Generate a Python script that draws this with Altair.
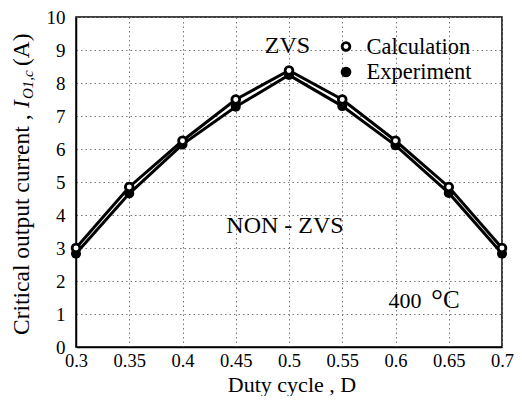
import altair as alt
import pandas as pd

duty = [0.3, 0.35, 0.4, 0.45, 0.5, 0.55, 0.6, 0.65, 0.7]
calculation = [3.0, 4.85, 6.25, 7.5, 8.38, 7.5, 6.25, 4.85, 3.0]
experiment = [2.83, 4.65, 6.14, 7.28, 8.24, 7.3, 6.11, 4.67, 2.83]
y_ticks = [0, 1, 2, 3, 4, 5, 6, 7, 8, 9, 10]

df = pd.DataFrame({"D": duty, "Calculation": calculation, "Experiment": experiment})

FONT = "Liberation Serif"

x_enc = alt.X(
    "D:Q",
    scale=alt.Scale(domain=[0.3, 0.7], nice=False, zero=False),
    axis=alt.Axis(values=duty, format=".2~f", title=None, ticks=False,
                  labelFlush=False, labelOverlap=False, labelPadding=4,
                  labelFontSize=18.5, labelFont=FONT, labelColor="black",
                  grid=True, gridDash=[1.5, 3], gridColor="#777", gridWidth=1,
                  domainColor="black", domainWidth=1.5),
)
y_enc = alt.Y(
    "val:Q",
    scale=alt.Scale(domain=[0, 10], nice=False),
    axis=alt.Axis(values=y_ticks, title=None, ticks=False, labelPadding=11,
                  labelFontSize=19, labelFont=FONT, labelColor="black",
                  labelFlush=False, labelOverlap=False,
                  grid=True, gridDash=[1.5, 3], gridColor="#777", gridWidth=1,
                  domainColor="black", domainWidth=1.5),
)

base = alt.Chart(df).transform_fold(["Calculation", "Experiment"], as_=["series", "val"])
lines = base.mark_line(color="black", strokeWidth=3).encode(x=x_enc, y=y_enc, detail="series:N")
exp_pts = base.transform_filter(alt.datum.series == "Experiment").mark_circle(
    color="black", size=100, opacity=1).encode(x=x_enc, y=y_enc)
calc_pts = base.transform_filter(alt.datum.series == "Calculation").mark_point(
    shape="circle", filled=True, fill="white", stroke="black",
    strokeWidth=2.8, size=60, opacity=1).encode(x=x_enc, y=y_enc)

one = alt.Data(values=[{}])


def txt(s, x, y, size=24, align="left", angle=0, style="normal"):
    return alt.Chart(one).mark_text(
        text=s, font=FONT, fontSize=size, align=align, baseline="alphabetic",
        angle=angle, fontStyle=style, color="black"
    ).encode(x=alt.value(x), y=alt.value(y))


annotations = [
    txt("ZVS", 211.5, 36, 24, "center"),
    txt("Calculation", 290.6, 36.5, 22.5),
    txt("Experiment", 290.6, 61.5, 22.5),
    txt("NON - ZVS", 209, 216, 24, "center"),
    txt("400", 312.5, 290.5, 22),
    txt("°", 361, 292.5, 30, "center"),
    txt("C", 367, 290.5, 25),
    txt("Duty cycle , D", 216, 375, 22, "center"),
    # y-axis title pieces (rotated)
    txt("Critical output current , ", -47, 318, 23.5, "left", 270),
    txt("I", -47, 91, 23.5, "left", 270, "italic"),
    txt("O1,c", -43, 82, 15, "left", 270, "italic"),
    txt("(A)", -47, 49, 23.5, "left", 270),
]

leg_open = alt.Chart(one).mark_point(shape="circle", filled=True, fill="white", stroke="black",
                                     strokeWidth=2.8, size=60, opacity=1).encode(
    x=alt.value(270), y=alt.value(29.5))
leg_fill = alt.Chart(one).mark_circle(color="black", size=115, opacity=1).encode(
    x=alt.value(270), y=alt.value(55))

chart = alt.layer(
    lines, exp_pts, calc_pts, leg_open, leg_fill, *annotations
).properties(
    width=426, height=330,
    autosize=alt.AutoSizeParams(type="none"),
    padding={"left": 68, "top": 9, "right": 12, "bottom": 49},
    background="white",
).configure_view(stroke="black", strokeWidth=1.5)

chart.save("out.html", embed_options={"renderer": "svg", "actions": False})
